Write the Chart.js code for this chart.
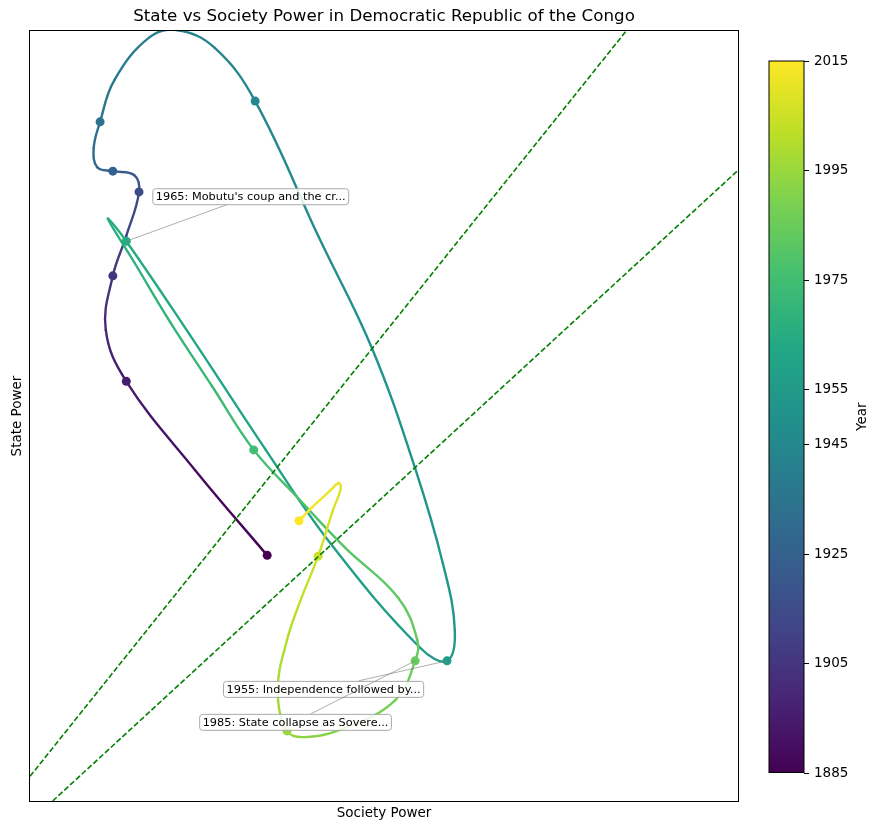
<!DOCTYPE html>
<html>
<head>
<meta charset="utf-8">
<script src="https://cdn.jsdelivr.net/npm/chart.js@4.4.1/dist/chart.umd.min.js"></script>
<style>
  html, body { margin: 0; padding: 0; background: #fff; }
</style>
</head>
<body>
<canvas id="myChart" width="879" height="831"></canvas>
<script>
// trajectory (society = x, state = y, 0-10 scale)
const years = [1885, 1890, 1895, 1900, 1905, 1910, 1915, 1920, 1925, 1927.5, 1930, 1935,
  1937.5, 1940, 1941.5, 1943, 1945, 1947.5, 1950, 1951.5, 1953, 1954, 1955,
  1956, 1958, 1960, 1962.5, 1965, 1966, 1968, 1970, 1972.5, 1975,
  1977.5, 1980, 1982.5, 1984, 1985, 1987.5, 1990, 1992.5, 1995,
  1997.5, 2000, 2002.5, 2005, 2007.5, 2009, 2010, 2011, 2013, 2015];
const society = [3.35, 2.33, 1.36, 1.07, 1.17, 1.36, 1.54, 1.47, 1.17, 0.95, 0.90, 0.99,
  1.19, 1.69, 2.09, 2.61, 3.18, 4.08, 4.83, 5.44, 5.83, 6.00, 5.89,
  5.51, 4.24, 3.33, 2.26, 1.36, 1.10, 1.47, 1.98, 2.57, 3.16,
  3.77, 4.45, 5.20, 5.47, 5.44, 5.16, 4.45, 3.88, 3.63,
  3.50, 3.63, 3.84, 4.07, 4.28, 4.39, 4.36, 4.25, 3.98, 3.80];
const state = [3.19, 4.30, 5.45, 6.12, 6.82, 7.34, 7.91, 8.13, 8.18, 8.23, 8.48, 8.82,
  9.36, 9.92, 10.01, 9.78, 9.09, 7.32, 5.88, 4.32, 3.09, 2.22, 1.82,
  1.99, 3.35, 4.56, 6.05, 7.27, 7.56, 7.00, 6.22, 5.39, 4.56,
  3.95, 3.29, 2.64, 2.09, 1.82, 1.31, 0.95, 0.83, 0.91,
  1.44, 2.09, 2.65, 3.18, 3.78, 4.06, 4.13, 4.04, 3.81, 3.64];

// dashed reference lines, end points [society, state]
const upperLine = [[0, 0.32], [8.42, 10]];
const lowerLine = [[0.32, 0], [10, 8.19]];

const colorbarTicks = [1885, 1905, 1925, 1945, 1955, 1975, 1995, 2015];
const yearMin = 1885, yearMax = 2015;

const events = [
  { year: 1965, text: "1965: Mobutu's coup and the cr..." },
  { year: 1955, text: "1955: Independence followed by..." },
  { year: 1985, text: "1985: State collapse as Sovere..." }
];
// label box offset from its point, px
const eventOffsets = { 1965: [26, -53], 1955: [-224, 20], 1985: [-216, 53] };

const viridisStops = ["#440154", "#482475", "#414487", "#355f8d", "#2a788e", "#21918c",
  "#22a884", "#44bf70", "#7ad151", "#bddf26", "#fde725"];

function hexRgb(h) {
  return [parseInt(h.slice(1, 3), 16), parseInt(h.slice(3, 5), 16), parseInt(h.slice(5, 7), 16)];
}
function viridis(year) {
  let t = (year - yearMin) / (yearMax - yearMin);
  t = Math.max(0, Math.min(1, t)) * 10;
  const i = Math.min(9, Math.floor(t));
  const f = t - i;
  const a = hexRgb(viridisStops[i]), b = hexRgb(viridisStops[i + 1]);
  const c = a.map((v, k) => Math.round(v + (b[k] - v) * f));
  return `rgb(${c[0]},${c[1]},${c[2]})`;
}
const isMarker = y => (y - yearMin) % 10 === 0;

const FONT = "'DejaVu Sans', sans-serif";

const extras = {
  id: "extras",
  afterDatasetsDraw(chart) {
    const { ctx, chartArea: a, scales } = chart;
    ctx.save();
    // frame
    ctx.strokeStyle = "#000";
    ctx.lineWidth = 1;
    ctx.strokeRect(a.left - 0.5, a.top - 0.5, a.right - a.left + 1, a.bottom - a.top + 1);

    // event labels
    ctx.font = "11.3px " + FONT;
    events.forEach(ev => {
      const i = years.indexOf(ev.year);
      const px = scales.x.getPixelForValue(society[i]);
      const py = scales.y.getPixelForValue(state[i]);
      const off = eventOffsets[ev.year];
      const w = ctx.measureText(ev.text).width + 6;
      const h = 16;
      const bx = px + off[0], by = py + off[1];
      const cx = bx + w / 2, cy = by + h / 2;
      // connector from point to box edge, aimed at box centre
      const dx = px - cx, dy = py - cy;
      const s = Math.min(Math.abs((w / 2) / dx || Infinity), Math.abs((h / 2) / dy || Infinity));
      ctx.strokeStyle = "rgba(128,128,128,0.8)";
      ctx.lineWidth = 0.8;
      ctx.beginPath();
      ctx.moveTo(px, py);
      ctx.lineTo(cx + dx * s, cy + dy * s);
      ctx.stroke();
      ctx.fillStyle = "rgba(255,255,255,0.85)";
      ctx.strokeStyle = "#aaaaaa";
      ctx.lineWidth = 1;
      ctx.beginPath();
      ctx.roundRect(bx + 0.5, by + 0.5, w, h, 3);
      ctx.fill();
      ctx.stroke();
      ctx.fillStyle = "#000";
      ctx.textBaseline = "middle";
      ctx.textAlign = "left";
      ctx.fillText(ev.text, bx + 3.5, cy + 1);
    });
    ctx.restore();
  },
  afterDraw(chart) {
    const { ctx, chartArea: a } = chart;
    ctx.save();
    ctx.fillStyle = "#000";
    // title and axis labels
    ctx.textAlign = "center";
    ctx.textBaseline = "middle";
    ctx.font = "16.7px " + FONT;
    ctx.fillText("State vs Society Power in Democratic Republic of the Congo", (a.left + a.right) / 2, 17);
    ctx.font = "13.5px " + FONT;
    ctx.fillText("Society Power", (a.left + a.right) / 2, 813);
    ctx.save();
    ctx.translate(17, (a.top + a.bottom) / 2);
    ctx.rotate(-Math.PI / 2);
    ctx.fillText("State Power", 0, 0);
    ctx.restore();

    // colorbar
    const cb = { left: 769, right: 804, top: 61, bottom: 772.5 };
    const g = ctx.createLinearGradient(0, cb.bottom, 0, cb.top);
    viridisStops.forEach((c, k) => g.addColorStop(k / 10, c));
    ctx.fillStyle = g;
    ctx.fillRect(cb.left, cb.top, cb.right - cb.left, cb.bottom - cb.top);
    ctx.strokeStyle = "#000";
    ctx.lineWidth = 1;
    ctx.strokeRect(cb.left, cb.top, cb.right - cb.left, cb.bottom - cb.top);
    ctx.fillStyle = "#000";
    ctx.textAlign = "left";
    ctx.font = "13.5px " + FONT;
    colorbarTicks.forEach(yr => {
      const y = Math.round(cb.bottom - (yr - yearMin) / (yearMax - yearMin) * (cb.bottom - cb.top)) + 0.5;
      ctx.beginPath();
      ctx.moveTo(cb.right, y);
      ctx.lineTo(cb.right + 5, y);
      ctx.stroke();
      ctx.fillText(String(yr), cb.right + 10, y);
    });
    ctx.save();
    ctx.translate(862, (cb.top + cb.bottom) / 2);
    ctx.rotate(-Math.PI / 2);
    ctx.textAlign = "center";
    ctx.fillText("Year", 0, 0);
    ctx.restore();
    ctx.restore();
  }
};

const dashed = pts => ({
  data: pts.map(([x, y]) => ({ x, y })),
  showLine: true,
  borderColor: "#008000",
  borderWidth: 1.6,
  borderDash: [5.5, 2.4],
  pointRadius: 0,
  tension: 0
});

const ctx = document.getElementById("myChart");

const myChart = new Chart(ctx, {
  type: "scatter",
  data: {
    datasets: [
      dashed(upperLine),
      dashed(lowerLine),
      {
        data: years.map((yr, i) => ({ x: society[i], y: state[i] })),
        showLine: true,
        tension: 0.4,
        borderWidth: 2.4,
        borderCapStyle: "round",
        borderJoinStyle: "round",
        segment: {
          borderColor: c => {
            const gr = c.chart.ctx.createLinearGradient(c.p0.x, c.p0.y, c.p1.x, c.p1.y);
            gr.addColorStop(0, viridis(years[c.p0DataIndex]));
            gr.addColorStop(1, viridis(years[c.p1DataIndex]));
            return gr;
          }
        },
        pointRadius: c => (isMarker(years[c.dataIndex]) ? 4.5 : 0),
        pointBackgroundColor: c => viridis(years[c.dataIndex]),
        pointBorderWidth: 0,
        pointHoverRadius: 0
      }
    ]
  },
  options: {
    responsive: false,
    animation: false,
    devicePixelRatio: 1,
    events: [],
    layout: { padding: { left: 30, top: 31, right: 141, bottom: 30 } },
    plugins: { legend: { display: false }, tooltip: { enabled: false } },
    scales: {
      x: {
        min: 0, max: 10,
        ticks: { display: false },
        grid: { display: false, drawTicks: false },
        border: { display: false }
      },
      y: {
        min: 0, max: 10,
        ticks: { display: false },
        grid: { display: false, drawTicks: false },
        border: { display: false }
      }
    }
  },
  plugins: [extras]
});
</script>
</body>
</html>
